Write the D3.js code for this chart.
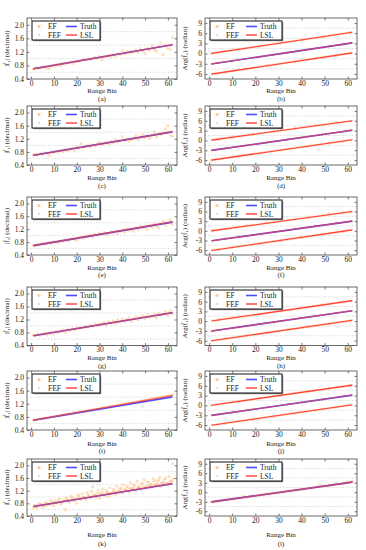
<!DOCTYPE html>
<html><head><meta charset="utf-8">
<script src="https://cdn.jsdelivr.net/npm/d3@7"></script>
<style>
body{margin:0;background:#fff}
svg{display:block}
text{font-family:"Liberation Serif","Times New Roman",serif;fill:#222}
</style>
</head><body>
<svg id="chart" width="366" height="550"></svg>
<script>
// ---------- DATA ----------
const rangeBins = d3.range(1, 63);
const phaseBins = [1,4,7,10,13,16,19,22,25,28,31,34,37,40,43,46,49,52,55,58,61];
const xTicks = [0,10,20,30,40,50,60];
const ampTicks = [0.4,0.8,1.2,1.6,2.0];
const phaseTicks = [-6,-3,0,3,6,9];
const leftCaptions = ["(a)","(c)","(e)","(g)","(i)","(k)"];
const rightCaptions = ["(b)","(d)","(f)","(h)","(j)","(l)"];
const legendLabels = ["EF","FEF","Truth","LSL"];

// amplitude lines (start at bin 1, end at bin 62)
const ampTruthStart = [0.70,0.70,0.69,0.70,0.70,0.70];
const ampTruthEnd   = [1.41,1.41,1.42,1.41,1.41,1.42];
const ampLslStart   = [0.70,0.69,0.69,0.70,0.70,0.70];
const ampLslEnd     = [1.41,1.41,1.43,1.41,1.45,1.43];

// phase lines
const phaseTruthStart = [-3.05,-3.05,-3.10,-3.05,-3.05,-3.05];
const phaseTruthEnd   = [3.15,3.10,3.00,3.20,3.15,3.20];
const phaseTopStart   = [0.05,0.10,0.00,0.05,0.05,null];
const phaseTopEnd     = [6.30,6.00,6.00,6.30,6.20,null];
const phaseBotStart   = [-6.05,-6.00,-6.10,-6.05,-6.05,null];
const phaseBotEnd     = [0.20,0.20,0.30,0.25,0.20,null];

// amplitude estimates
const efA = [.69,.75,.71,.73,.74,.76,.72,.70,.80,.77,.83,.80,.79,.86,.84,.87,.89,.86,.92,.90,.93,.95,.98,.96,.99,.97,1.01,1.03,1.00,1.06,.97,1.07,1.05,1.10,1.06,1.12,1.08,1.15,1.11,1.24,1.14,1.20,1.17,1.22,1.19,1.26,1.18,1.29,1.23,1.16,1.30,1.25,1.38,1.27,1.22,1.35,1.46,1.12,1.40,1.31,1.27,1.62];
const fefA = [.71,.70,.73,.72,.76,.74,.77,.76,.79,.81,.80,.83,.84,.85,.87,.86,.89,.90,.91,.93,.92,.95,.96,.97,.99,.98,1.01,1.02,1.03,1.05,1.04,1.07,1.06,1.09,1.10,1.11,1.12,1.13,1.15,1.14,1.17,1.18,1.19,1.21,1.20,1.23,1.24,1.25,1.26,1.29,1.27,1.30,1.31,1.29,1.34,1.33,1.36,1.35,1.38,1.40,1.37,1.43];
const efC = [.72,.74,.70,.75,.73,.78,.76,.70,.80,.79,.82,.78,.85,.80,.88,.84,.86,.92,.83,.95,.90,1.05,.94,.97,1.00,.96,1.02,.99,1.05,1.08,1.01,1.06,1.10,1.04,1.12,1.08,1.16,1.10,1.14,1.27,1.15,1.20,1.13,1.18,1.22,1.30,1.17,1.26,1.33,1.24,1.28,1.21,1.30,1.42,1.25,1.36,1.33,1.39,1.50,1.60,1.30,1.28];
const fefC = [.70,.72,.71,.74,.76,.75,.77,.79,.78,.80,.83,.82,.84,.86,.85,.88,.90,.89,.91,.93,.95,.94,.96,.98,.97,1.00,1.02,1.01,1.04,1.03,1.06,1.08,1.07,1.09,1.12,1.11,1.13,1.15,1.14,1.17,1.19,1.18,1.21,1.20,1.23,1.25,1.24,1.27,1.26,1.29,1.31,1.30,1.32,1.35,1.34,1.36,1.38,1.37,1.40,1.42,1.39,1.43];
const efE = [.71,.68,.74,.72,.77,.73,.76,.79,.75,.82,.80,.78,.85,.83,.88,.84,.87,.91,.89,.86,.93,.96,.92,.99,.97,1.02,.95,1.04,1.00,1.07,1.03,1.10,1.01,1.06,1.12,1.08,1.15,1.05,1.13,1.18,1.11,1.22,1.16,1.20,1.14,1.25,1.19,1.30,1.23,1.28,1.20,1.33,1.26,1.38,1.29,1.24,1.36,1.45,1.31,1.40,1.50,1.35];
const fefE = [.70,.72,.71,.74,.74,.77,.76,.78,.80,.80,.82,.84,.83,.86,.86,.88,.90,.90,.92,.93,.94,.96,.97,.97,1.00,1.00,1.02,1.03,1.03,1.06,1.06,1.08,1.09,1.10,1.10,1.13,1.13,1.15,1.16,1.17,1.18,1.20,1.20,1.22,1.23,1.24,1.26,1.26,1.28,1.29,1.30,1.32,1.32,1.34,1.35,1.36,1.38,1.38,1.40,1.41,1.42,1.44];
const efG = [.72,.70,.76,.71,.74,.79,.73,.78,.82,.76,.84,.80,.83,.88,.81,.90,.86,.92,.88,.95,.91,.97,.94,1.00,.96,1.03,.99,1.06,1.01,1.08,1.04,1.11,1.02,1.13,1.09,1.16,1.07,1.19,1.12,1.22,1.15,1.18,1.25,1.14,1.21,1.28,1.19,1.26,1.31,1.22,1.34,1.27,1.30,1.37,1.25,1.40,1.33,1.36,1.44,1.32,1.48,1.38];
const fefG = [.71,.71,.72,.75,.75,.76,.78,.77,.80,.81,.81,.84,.84,.85,.87,.87,.89,.91,.90,.93,.94,.95,.96,.98,.98,1.00,1.01,1.02,1.04,1.04,1.06,1.07,1.07,1.10,1.10,1.12,1.13,1.14,1.15,1.16,1.18,1.19,1.19,1.21,1.22,1.23,1.25,1.25,1.27,1.28,1.29,1.31,1.31,1.33,1.34,1.35,1.37,1.37,1.39,1.40,1.41,1.43];
const efI = [.70,.71,.73,.74,.75,.76,.77,.79,.80,.81,.82,.83,.85,.86,.87,.88,.89,.91,.92,.93,.94,.95,.97,.98,.99,1.00,1.02,1.03,1.04,1.05,1.07,1.08,1.09,1.10,1.12,1.13,1.14,1.15,1.17,1.18,1.19,1.21,1.22,1.23,1.24,1.26,1.27,1.28,1.30,1.31,1.32,1.34,1.35,1.36,1.38,1.39,1.40,1.42,1.43,1.44,1.46,1.47];
const fefI = [.70,.72,.72,.74,.75,.77,.77,.78,.80,.81,.83,.83,.84,.86,.87,.88,.90,.90,.92,.93,.94,.96,.96,.98,.99,1.00,1.01,1.03,1.04,1.05,1.06,1.08,1.09,1.10,1.11,1.13,1.14,1.15,1.16,1.18,1.19,1.20,1.22,1.23,1.24,1.25,1.27,1.28,1.29,1.31,1.32,1.33,1.35,1.36,1.37,1.38,1.40,1.41,1.42,1.44,1.45,1.46];
const efK = [.66,.74,.70,.78,.68,.80,.73,.77,.85,.72,.82,.90,.78,.86,.60,.92,.84,.97,.88,.80,1.05,.93,1.00,.91,1.08,.95,1.32,1.02,1.12,.97,1.15,1.06,1.20,1.01,1.10,1.24,1.08,1.18,1.28,1.12,1.22,1.33,1.16,1.27,1.38,1.20,1.31,1.24,1.42,1.28,1.48,1.35,1.30,1.52,1.40,1.55,1.34,1.47,1.60,1.38,1.52,2.05];
const fefK = [.70,.68,.75,.72,.76,.74,.79,.77,.81,.83,.80,.86,.84,.88,.87,.91,.89,.93,.95,.92,.98,.97,1.00,.99,1.03,1.01,1.05,1.07,1.04,1.10,1.08,1.12,1.11,1.15,1.13,1.17,1.16,1.19,1.21,1.18,1.24,1.22,1.26,1.25,1.29,1.27,1.31,1.30,1.34,1.32,1.36,1.35,1.39,1.37,1.42,1.40,1.44,1.43,1.46,1.45,1.48,1.50];
const efK2 = [.72,.65,.80,.76,.71,.84,.79,.90,.76,.88,.83,.95,.81,.92,.99,.87,1.02,.90,.96,1.06,.94,1.10,.99,1.14,1.03,1.18,1.07,.98,1.21,1.10,1.25,1.04,1.16,1.29,1.12,1.20,1.34,1.15,1.27,1.38,1.22,1.31,1.45,1.26,1.36,1.50,1.30,1.42,1.55,1.33,1.46,1.40,1.58,1.37,1.50,1.62,1.44,1.56,1.41,1.65,1.49,1.58];

// phase estimates (every third range bin)
const efB  = [0.08,-2.70,-5.45,-2.17,1.32,-4.52,-1.25,2.24,-3.60,-0.32,3.17,0.37,-2.45,4.01,1.30,-1.45,4.93,2.22,-0.60,2.83,6.16];
const fefB = [-3.05,-5.79,0.66,-5.18,-1.82,1.59,-4.26,-0.90,2.51,-3.33,0.03,3.43,0.64,-2.10,4.36,1.56,-1.18,5.28,2.49,5.89,0.05];
const efD  = [-6.10,0.36,-2.44,0.97,-4.87,-1.51,1.89,-3.95,-0.59,2.82,-3.02,0.33,3.74,0.95,-1.79,4.66,1.87,-0.87,5.59,-0.26,3.10];
const fefD = [-3.05,-2.74,0.66,-5.18,1.28,-4.56,-1.21,2.20,-3.64,-0.28,3.13,-2.72,0.64,4.05,1.26,-1.49,4.97,2.18,-0.56,2.79,5.90];
const efF  = [0.05,-5.79,-2.44,-5.18,-1.82,1.59,-1.21,-3.95,2.51,-0.28,-3.02,3.43,0.64,-2.10,4.36,1.56,-1.18,5.28,2.49,-0.26,5.95];
const fefF = [-6.10,-2.74,0.66,-2.13,-4.87,-1.51,1.89,-0.90,-3.64,2.82,0.03,-2.72,3.74,0.95,-1.79,1.56,4.97,-0.87,2.49,5.80,3.00];
const efH  = [-3.05,0.36,-5.49,0.97,-1.82,-4.56,-1.21,2.20,-3.64,-0.28,3.13,-2.72,0.64,4.05,-1.79,1.56,4.97,-0.87,2.49,5.89,0.05];
const fefH = [-6.10,-2.74,0.66,-2.13,1.28,-1.51,-4.26,-0.90,2.51,-3.33,0.03,3.43,-2.41,0.95,4.36,-1.49,1.87,5.28,2.49,-0.26,3.10];
const efJ  = [0.05,-2.74,-5.49,-2.13,1.28,-1.51,-4.26,2.20,-0.59,-3.33,3.13,0.33,-2.41,0.95,4.36,-1.49,1.87,5.28,-0.56,2.79,6.10];
const fefJ = [-3.05,-5.79,-2.44,0.97,-4.87,1.59,-1.21,-3.95,-0.59,2.82,-3.02,0.33,3.74,-2.10,1.26,4.66,-1.18,2.18,5.59,2.79,0.05];
const efL  = [-3.00,-3.10,-2.80,-2.85,-2.55,-2.62,-2.35,-2.45,-2.15,-2.30,-1.95,-2.05,-1.75,-1.85,-1.30,-1.60,-1.35,-1.45,-1.10,-1.25,-0.90,-1.05,-0.70,-0.80,-0.50,-0.60,-0.30,-0.40,-0.10,-0.20,0.10,0.00,0.30,0.20,0.50,0.40,0.70,0.60,0.95,0.80,1.10,1.00,1.35,1.20,1.55,1.45,1.75,2.30,1.80,2.05,1.90,2.25,2.10,2.45,3.00,2.50,2.80,2.65,3.00,3.35,3.20,3.50];
const fefL = [-3.05,-2.93,-2.87,-2.72,-2.66,-2.52,-2.46,-2.31,-2.25,-2.11,-2.05,-1.90,-1.84,-1.70,-1.64,-1.49,-1.43,-1.29,-1.23,-1.08,-1.02,-0.88,-0.82,-0.67,-0.61,-0.47,-0.41,-0.26,-0.20,-0.06,0.01,0.15,0.21,0.35,0.42,0.56,0.62,0.76,0.83,0.97,1.03,1.17,1.24,1.38,1.44,1.58,1.65,1.79,1.85,1.99,2.06,2.20,2.26,2.40,2.47,2.61,2.67,2.81,2.88,3.02,3.08,3.22];

// ---------- LAYOUT ----------
const rowTop    = [18,106,197,287,371,459];
const rowBottom = [79,165,255,345.5,430,516];
const xLabelY   = [92.5,179.5,269.5,359.5,445.5,536.5];
const captionY  = [100.5,187.5,277,367.5,453,545.5];
const colX0 = [27,205], colX1 = [177,357];

const C = {ef:"#fccb98", fef:"#f6a866", truth:"#4b4bff", lsl:"#ff3c3c", grid:"#c8c8c8", frame:"#444"};

const svg = d3.select("#chart");

const ampEF  = [[efA],[efC],[efE],[efG],[efI],[efK, efK2]];
const ampFEF = [fefA,fefC,fefE,fefG,fefI,fefK];
const phEF   = [efB,efD,efF,efH,efJ,efL];
const phFEF  = [fefB,fefD,fefF,fefH,fefJ,fefL];

function panel(row, col) {
  const x0 = colX0[col], x1 = colX1[col], y0 = rowTop[row], y1 = rowBottom[row];
  const isAmp = col === 0;
  const x = d3.scaleLinear().domain([-1.8, 64]).range([x0, x1]);
  const y = isAmp ? d3.scaleLinear().domain([0.4, 2.2]).range([y1, y0])
                  : d3.scaleLinear().domain([-7.5, 10.5]).range([y1, y0]);
  const yTicks = isAmp ? ampTicks : phaseTicks;
  const g = svg.append("g");
  const clipId = "clip" + row + "_" + col;
  g.append("clipPath").attr("id", clipId).append("rect")
    .attr("x", x0).attr("y", y0).attr("width", x1 - x0).attr("height", y1 - y0);

  // minor grid lines (midway between labelled ticks)
  const gridVals = d3.pairs(yTicks).map(p => (p[0] + p[1]) / 2);
  g.append("g").selectAll("line").data(gridVals).join("line")
    .attr("x1", x0).attr("x2", x1).attr("y1", d => y(d)).attr("y2", d => y(d))
    .attr("stroke", C.grid).attr("stroke-width", 0.6).attr("stroke-dasharray", "1.5,1.5");

  const plot = g.append("g").attr("clip-path", `url(#${clipId})`);
  const line = d3.line().x(d => x(d[0])).y(d => y(d[1]));

  if (isAmp) {
    ampEF[row].forEach((arr, k) => {
      plot.append("g").selectAll("circle").data(arr).join("circle")
        .attr("cx", (d, i) => x(rangeBins[i] + (k ? 0.5 : 0))).attr("cy", d => y(d))
        .attr("r", 1.6).attr("fill", C.ef).attr("opacity", 0.6);
    });
    plot.append("g").selectAll("circle").data(ampFEF[row]).join("circle")
      .attr("cx", (d, i) => x(rangeBins[i])).attr("cy", d => y(d))
      .attr("r", 0.8).attr("fill", C.fef).attr("opacity", 0.7);
    plot.append("path").datum([[1, ampTruthStart[row]], [62, ampTruthEnd[row]]])
      .attr("d", line).attr("stroke", C.truth).attr("stroke-width", 1.6).attr("fill", "none");
    plot.append("path").datum([[1, ampLslStart[row]], [62, ampLslEnd[row]]])
      .attr("d", line).attr("stroke", C.lsl).attr("stroke-width", 1.2).attr("fill", "none").attr("opacity", 0.75);
  } else {
    const bins = row === 5 ? rangeBins : phaseBins;
    plot.append("g").selectAll("circle").data(phEF[row]).join("circle")
      .attr("cx", (d, i) => x(bins[i])).attr("cy", d => y(d))
      .attr("r", 1.6).attr("fill", C.ef).attr("opacity", 0.6);
    plot.append("g").selectAll("circle").data(phFEF[row]).join("circle")
      .attr("cx", (d, i) => x(bins[i])).attr("cy", d => y(d))
      .attr("r", 0.8).attr("fill", C.fef).attr("opacity", 0.7);
    if (phaseTopStart[row] !== null) {
      [[phaseTopStart[row], phaseTopEnd[row]], [phaseBotStart[row], phaseBotEnd[row]]].forEach(se => {
        plot.append("path").datum([[1, se[0]], [62, se[1]]]).attr("d", line)
          .attr("stroke", "#ffb070").attr("stroke-width", 2.2).attr("fill", "none").attr("opacity", 0.5);
        plot.append("path").datum([[1, se[0]], [62, se[1]]]).attr("d", line)
          .attr("stroke", C.lsl).attr("stroke-width", 1.1).attr("fill", "none");
      });
    }
    plot.append("path").datum([[1, phaseTruthStart[row]], [62, phaseTruthEnd[row]]])
      .attr("d", line).attr("stroke", C.truth).attr("stroke-width", 1.6).attr("fill", "none");
    plot.append("path").datum([[1, phaseTruthStart[row]], [62, phaseTruthEnd[row] + 0.02]])
      .attr("d", line).attr("stroke", C.lsl).attr("stroke-width", 1.2).attr("fill", "none").attr("opacity", 0.75);
  }

  // frame
  g.append("rect").attr("x", x0).attr("y", y0).attr("width", x1 - x0).attr("height", y1 - y0)
    .attr("fill", "none").attr("stroke", C.frame).attr("stroke-width", 0.8);

  // axes with inward ticks
  const ax = g.append("g").attr("transform", `translate(0,${y1})`)
    .call(d3.axisBottom(x).tickValues(xTicks).tickSize(-2.5).tickPadding(1.5));
  const axT = g.append("g").attr("transform", `translate(0,${y0})`)
    .call(d3.axisTop(x).tickValues(xTicks).tickSize(-2.5).tickFormat(""));
  const ay = g.append("g").attr("transform", `translate(${x0},0)`)
    .call(d3.axisLeft(y).tickValues(yTicks).tickSize(-2.5).tickPadding(3)
      .tickFormat(isAmp ? d3.format(".1f") : d3.format("d")));
  const ayR = g.append("g").attr("transform", `translate(${x1},0)`)
    .call(d3.axisRight(y).tickValues(yTicks).tickSize(-2.5).tickFormat(""));
  [ax, axT, ay, ayR].forEach(a => {
    a.select(".domain").remove();
    a.selectAll("line").attr("stroke", C.frame).attr("stroke-width", 0.7);
    a.selectAll("text").attr("font-size", 7.5).attr("fill", "#333")
      .attr("font-family", "Liberation Serif, serif");
  });
  ay.selectAll("text").text(function(){ return this.textContent.replace("\u2212", "-"); });

  // axis labels & caption
  const cx = (x0 + x1) / 2;
  g.append("text").attr("x", cx).attr("y", xLabelY[row]).attr("text-anchor", "middle")
    .attr("font-size", 7).text("Range Bin");
  g.append("text").attr("x", cx).attr("y", captionY[row]).attr("text-anchor", "middle")
    .attr("font-size", 7).text(col === 0 ? leftCaptions[row] : rightCaptions[row]);
  const lx = col === 0 ? 9 : 187;
  g.append("text").attr("transform", `translate(${lx},${(y0 + y1) / 2}) rotate(-90)`)
    .attr("text-anchor", "middle").attr("font-size", 7)
    .text(isAmp ? "|f\u0302\u2081| (decimal)" : "Arg(f\u0302\u2081) (radian)");

  // legend
  const lw = isAmp ? 68 : 72, lh = 19, lxx = x0 + 5, lyy = y0 + 3;
  const lg = g.append("g").attr("transform", `translate(${lxx},${lyy})`);
  lg.append("rect").attr("x", 1.2).attr("y", 1.2).attr("width", lw).attr("height", lh).attr("fill", "#888");
  lg.append("rect").attr("width", lw).attr("height", lh).attr("fill", "#fff")
    .attr("stroke", "#111").attr("stroke-width", 1);
  const rows = [5.5, 14];
  lg.append("circle").attr("cx", 7).attr("cy", rows[0]).attr("r", 1.6).attr("fill", C.ef);
  lg.append("circle").attr("cx", 7).attr("cy", rows[1]).attr("r", 0.8).attr("fill", C.fef);
  const lineX = isAmp ? [34, 45] : [36, 47];
  lg.append("line").attr("x1", lineX[0]).attr("x2", lineX[1]).attr("y1", rows[0]).attr("y2", rows[0])
    .attr("stroke", C.truth).attr("stroke-width", 1.6);
  lg.append("line").attr("x1", lineX[0]).attr("x2", lineX[1]).attr("y1", rows[1]).attr("y2", rows[1])
    .attr("stroke", C.lsl).attr("stroke-width", 1.4);
  const tx = [16, 16, lineX[1] + 3, lineX[1] + 3];
  const ty = [rows[0], rows[1], rows[0], rows[1]];
  legendLabels.forEach((t, i) => {
    lg.append("text").attr("x", tx[i]).attr("y", ty[i] + 2.6).attr("font-size", 7.5).text(t);
  });
}

for (let r = 0; r < 6; r++) { panel(r, 0); panel(r, 1); }
</script>
</body></html>
